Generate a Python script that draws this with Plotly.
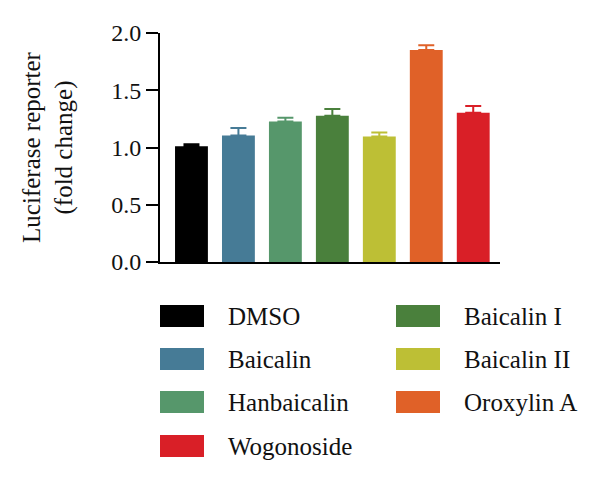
import plotly.graph_objects as go

categories = ["DMSO", "Baicalin", "Hanbaicalin", "Baicalin I", "Baicalin II", "Oroxylin A", "Wogonoside"]
values = [1.01, 1.105, 1.228, 1.278, 1.095, 1.852, 1.304]
errors = [0.018, 0.066, 0.032, 0.058, 0.035, 0.042, 0.058]
colors = ["#000000", "#467b96", "#56976b", "#4a803c", "#bdbf35", "#e06128", "#d91f27"]
y_ticks = [0.0, 0.5, 1.0, 1.5, 2.0]
y_ticklabels = ["0.0", "0.5", "1.0", "1.5", "2.0"]
legend_col1 = ["DMSO", "Baicalin", "Hanbaicalin", "Wogonoside"]
legend_col2 = ["Baicalin I", "Baicalin II", "Oroxylin A"]

W, H = 600, 480
L, R, T, B = 160, 100, 33, 218
pw, ph = W - L - R, H - T - B
FONT = "Liberation Serif"

def px_x(x):
    return (x - L) / pw

def px_y(y):
    return (H - B - y) / ph

fig = go.Figure()
for i, (c, v, e, col) in enumerate(zip(categories, values, errors, colors)):
    fig.add_trace(go.Bar(
        x=[i], y=[v], name=c, width=0.7,
        marker=dict(color=col, line=dict(width=0)),
        error_y=dict(type="data", symmetric=False, array=[e], arrayminus=[0],
                     color=col, thickness=2, width=8),
        showlegend=False,
    ))

shapes = []
annotations = []
row_y = [316, 359, 402, 446]
for col_items, sx, tx in [(legend_col1, 160, 226), (legend_col2, 396, 462)]:
    for j, name in enumerate(col_items):
        col = colors[categories.index(name)]
        cy = row_y[j]
        shapes.append(dict(type="rect", xref="paper", yref="paper",
                           x0=px_x(sx), x1=px_x(sx + 44), y0=px_y(cy - 11), y1=px_y(cy + 11),
                           fillcolor=col, line=dict(width=0)))
        annotations.append(dict(xref="paper", yref="paper", x=px_x(tx), y=px_y(cy),
                                xanchor="left", yanchor="middle", text=name, showarrow=False,
                                font=dict(family=FONT, size=25, color="#111111")))

fig.update_layout(
    width=W, height=H,
    margin=dict(l=L, r=R, t=T, b=B, autoexpand=False),
    paper_bgcolor="white", plot_bgcolor="white",
    barmode="overlay",
    xaxis=dict(range=[-0.67, 6.57], showticklabels=False, ticks="", showgrid=False,
               zeroline=False, showline=True, linecolor="black", linewidth=2),
    yaxis=dict(range=[0, 2.0], tickvals=y_ticks, ticktext=y_ticklabels, ticks="outside",
               ticklen=12, tickwidth=2, tickcolor="black", showgrid=False, zeroline=False,
               showline=True, linecolor="black", linewidth=2,
               tickfont=dict(family=FONT, size=24, color="#111111"),
               title=dict(text="Luciferase reporter<br>(fold change)", standoff=31,
                          font=dict(family=FONT, size=25, color="#111111"))),
    shapes=shapes, annotations=annotations,
)
fig.write_html("out.html")
